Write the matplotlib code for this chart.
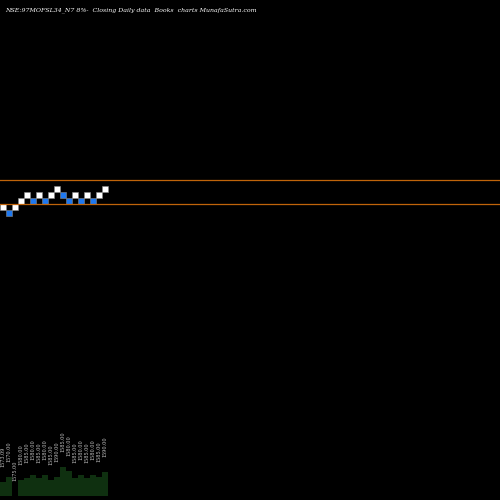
import matplotlib
matplotlib.use("Agg")
import matplotlib.pyplot as plt
from matplotlib.patches import Rectangle

levels = [1,0,1,2,3,2,3,2,3,4,3,2,3,2,3,2,3,4]
colors = ["w","b","w","w","w","b","w","b","w","w","b","b","w","b","w","b","w","w"]
volumes = [14,19,0,16,18,21,18,21,16,19,29,25,18,21,18,21,19,24]
labels = ["1573.09","1570.00","1575.00","1580.00","1585.00","1580.00","1585.00","1580.00",
          "1585.00","1590.00","1585.00","1580.00","1585.00","1580.00","1585.00","1580.00",
          "1585.00","1590.00"]
line_levels = [6, 2]

fig = plt.figure(figsize=(5,5), dpi=100, facecolor="black")
ax = fig.add_axes([0,0,1,1], facecolor="black")
ax.set_xlim(0, 500/6)
ax.set_ylim((216-500)/6, 216/6)
ax.axis("off")
for l in line_levels:
    ax.axhline(l, color="#c0640a", lw=0.9)
for i,(l,c) in enumerate(zip(levels, colors)):
    fc = "white" if c=="w" else "#1e78f0"
    ax.add_patch(Rectangle((i, l), 1, 1, facecolor=fc, edgecolor="#888888", lw=0.4))

vax = fig.add_axes([0, 0.008, 1, 0.06], facecolor="none")
vax.set_xlim(0, 500/6); vax.set_ylim(0, 30)
vax.axis("off")
vax.bar([i+0.5 for i in range(len(volumes))], volumes, width=1, color="#0f3010")
for i,(v,t) in enumerate(zip(volumes, labels)):
    fig.text((i+0.5)*6/500, (4+v+5)/500 + 0.02, t, rotation=90, color="#cccccc",
             fontsize=3.5, ha="center", va="bottom", family="DejaVu Serif")

fig.text(0.01, 0.985, "NSE:97MOFSL34_N7 8%-  Closing Daily data  Books  charts MunafaSutra.com",
         color="white", fontsize=4.5, va="top", family="DejaVu Serif", style="italic")
fig.savefig("out.png", dpi=100, facecolor="black")
